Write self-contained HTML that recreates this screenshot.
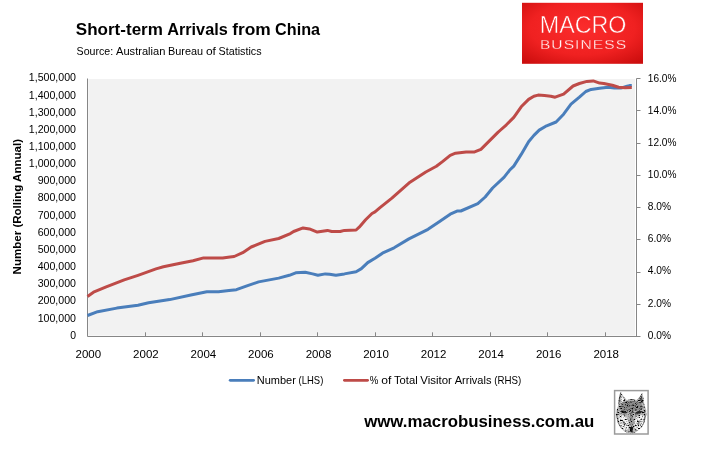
<!DOCTYPE html>
<html lang="en"><head><meta charset="utf-8"><title>Short-term Arrivals from China</title>
<style>
html,body{margin:0;padding:0;background:#fff;}
body{width:708px;height:454px;overflow:hidden;}
svg{display:block;}
text{font-family:"Liberation Sans",sans-serif;fill:#000;}
.b{font-weight:bold;}
.ax{font-size:10.6px;}
</style></head><body>
<svg width="708" height="454" viewBox="0 0 708 454">
<defs>
<radialGradient id="lg" cx="50%" cy="42%" r="72%">
<stop offset="0" stop-color="#fb2c2c"/><stop offset="0.6" stop-color="#f02121"/><stop offset="1" stop-color="#cc0e0e"/>
</radialGradient>
</defs>
<rect width="708" height="454" fill="#fff"/>

<text class="b" x="75.8" y="34.5" font-size="17.4" textLength="87.1" lengthAdjust="spacingAndGlyphs">Short-term</text>
<text class="b" x="167.2" y="34.5" font-size="17.4" textLength="60.6" lengthAdjust="spacingAndGlyphs">Arrivals</text>
<text class="b" x="232.2" y="34.5" font-size="17.4" textLength="38.6" lengthAdjust="spacingAndGlyphs">from</text>
<text class="b" x="275.1" y="34.5" font-size="17.4" textLength="44.9" lengthAdjust="spacingAndGlyphs">China</text>
<text x="76.6" y="54.7" font-size="11.2" textLength="36.6" lengthAdjust="spacingAndGlyphs">Source:</text>
<text x="116.0" y="54.7" font-size="11.2" textLength="49.4" lengthAdjust="spacingAndGlyphs">Australian</text>
<text x="168.0" y="54.7" font-size="11.2" textLength="35.1" lengthAdjust="spacingAndGlyphs">Bureau</text>
<text x="205.9" y="54.7" font-size="11.2" textLength="10.0" lengthAdjust="spacingAndGlyphs">of</text>
<text x="218.6" y="54.7" font-size="11.2" textLength="43.0" lengthAdjust="spacingAndGlyphs">Statistics</text>
<rect x="522" y="2.8" width="121" height="61" fill="url(#lg)"/>
<text x="539.8" y="32.8" font-size="23" textLength="86.6" lengthAdjust="spacingAndGlyphs" style="fill:#fff;stroke:#f42626;stroke-width:0.5">MACRO</text>
<text x="539.9" y="48.7" font-size="13.4" textLength="87.2" lengthAdjust="spacingAndGlyphs" style="fill:#fff;stroke:#f42626;stroke-width:0.3;letter-spacing:0.9px">BUSINESS</text>
<rect x="88.3" y="79" width="546.7" height="256.6" fill="#f2f2f2"/>
<g stroke="#868686" stroke-width="1" fill="none">
<path d="M87.5 78.5V336.5H640.5M636.5 78.5V336.5"/>
<path d="M145.5 336.5v-4.2M202.5 336.5v-4.2M260.5 336.5v-4.2M317.5 336.5v-4.2M375.5 336.5v-4.2M432.5 336.5v-4.2M490.5 336.5v-4.2M547.5 336.5v-4.2M605.5 336.5v-4.2M636.5 78.5h4M636.5 110.5h4M636.5 143.5h4M636.5 175.5h4M636.5 207.5h4M636.5 239.5h4M636.5 272.5h4M636.5 304.5h4"/></g>
<text class="ax" x="76" y="338.6" text-anchor="end" textLength="5.8" lengthAdjust="spacingAndGlyphs">0</text>
<text class="ax" x="76" y="321.5" text-anchor="end" textLength="38.3" lengthAdjust="spacingAndGlyphs">100,000</text>
<text class="ax" x="76" y="304.3" text-anchor="end" textLength="38.3" lengthAdjust="spacingAndGlyphs">200,000</text>
<text class="ax" x="76" y="287.2" text-anchor="end" textLength="38.3" lengthAdjust="spacingAndGlyphs">300,000</text>
<text class="ax" x="76" y="270.0" text-anchor="end" textLength="38.3" lengthAdjust="spacingAndGlyphs">400,000</text>
<text class="ax" x="76" y="252.9" text-anchor="end" textLength="38.3" lengthAdjust="spacingAndGlyphs">500,000</text>
<text class="ax" x="76" y="235.7" text-anchor="end" textLength="38.3" lengthAdjust="spacingAndGlyphs">600,000</text>
<text class="ax" x="76" y="218.6" text-anchor="end" textLength="38.3" lengthAdjust="spacingAndGlyphs">700,000</text>
<text class="ax" x="76" y="201.4" text-anchor="end" textLength="38.3" lengthAdjust="spacingAndGlyphs">800,000</text>
<text class="ax" x="76" y="184.3" text-anchor="end" textLength="38.3" lengthAdjust="spacingAndGlyphs">900,000</text>
<text class="ax" x="76" y="167.1" text-anchor="end" textLength="47.2" lengthAdjust="spacingAndGlyphs">1,000,000</text>
<text class="ax" x="76" y="150.0" text-anchor="end" textLength="47.2" lengthAdjust="spacingAndGlyphs">1,100,000</text>
<text class="ax" x="76" y="132.8" text-anchor="end" textLength="47.2" lengthAdjust="spacingAndGlyphs">1,200,000</text>
<text class="ax" x="76" y="115.7" text-anchor="end" textLength="47.2" lengthAdjust="spacingAndGlyphs">1,300,000</text>
<text class="ax" x="76" y="98.5" text-anchor="end" textLength="47.2" lengthAdjust="spacingAndGlyphs">1,400,000</text>
<text class="ax" x="76" y="81.4" text-anchor="end" textLength="47.2" lengthAdjust="spacingAndGlyphs">1,500,000</text>
<text class="ax" x="647.8" y="338.6" textLength="23.2" lengthAdjust="spacingAndGlyphs">0.0%</text>
<text class="ax" x="647.8" y="306.5" textLength="23.2" lengthAdjust="spacingAndGlyphs">2.0%</text>
<text class="ax" x="647.8" y="274.4" textLength="23.2" lengthAdjust="spacingAndGlyphs">4.0%</text>
<text class="ax" x="647.8" y="242.3" textLength="23.2" lengthAdjust="spacingAndGlyphs">6.0%</text>
<text class="ax" x="647.8" y="210.2" textLength="23.2" lengthAdjust="spacingAndGlyphs">8.0%</text>
<text class="ax" x="647.8" y="178.1" textLength="28.6" lengthAdjust="spacingAndGlyphs">10.0%</text>
<text class="ax" x="647.8" y="145.9" textLength="28.6" lengthAdjust="spacingAndGlyphs">12.0%</text>
<text class="ax" x="647.8" y="113.8" textLength="28.6" lengthAdjust="spacingAndGlyphs">14.0%</text>
<text class="ax" x="647.8" y="81.7" textLength="28.6" lengthAdjust="spacingAndGlyphs">16.0%</text>
<text class="ax" x="75.5" y="357.7" textLength="25.6" lengthAdjust="spacingAndGlyphs">2000</text>
<text class="ax" x="133.1" y="357.7" textLength="25.6" lengthAdjust="spacingAndGlyphs">2002</text>
<text class="ax" x="190.6" y="357.7" textLength="25.6" lengthAdjust="spacingAndGlyphs">2004</text>
<text class="ax" x="248.1" y="357.7" textLength="25.6" lengthAdjust="spacingAndGlyphs">2006</text>
<text class="ax" x="305.7" y="357.7" textLength="25.6" lengthAdjust="spacingAndGlyphs">2008</text>
<text class="ax" x="363.2" y="357.7" textLength="25.6" lengthAdjust="spacingAndGlyphs">2010</text>
<text class="ax" x="420.8" y="357.7" textLength="25.6" lengthAdjust="spacingAndGlyphs">2012</text>
<text class="ax" x="478.3" y="357.7" textLength="25.6" lengthAdjust="spacingAndGlyphs">2014</text>
<text class="ax" x="535.9" y="357.7" textLength="25.6" lengthAdjust="spacingAndGlyphs">2016</text>
<text class="ax" x="593.4" y="357.7" textLength="25.6" lengthAdjust="spacingAndGlyphs">2018</text>
<text class="b" font-size="11.7" transform="translate(20.6 274.4) rotate(-90)" textLength="135.4" lengthAdjust="spacingAndGlyphs">Number (Rolling Annual)</text>
<polyline points="87.5,315.5 97.7,311.7 116.8,308.1 138.0,305.3 148.6,302.8 169.7,299.6 190.9,295.0 206.8,291.8 218.5,291.8 229.0,290.5 236.4,289.7 246.9,285.9 258.6,281.9 278.7,278.1 289.3,275.3 295.7,272.8 305.2,272.2 312.6,273.9 317.9,275.3 325.3,273.9 329.6,274.3 335.9,275.3 344.4,273.9 356.1,271.7 361.4,268.6 367.7,262.6 375.0,258.2 383.5,252.6 394.1,247.8 408.9,238.9 428.0,229.3 440.7,220.8 450.2,214.2 457.6,210.9 460.8,211.0 477.8,203.7 485.2,197.0 492.6,188.0 504.2,177.2 509.5,170.3 513.8,166.1 521.2,154.4 528.6,141.7 533.9,135.4 539.2,130.1 546.6,125.8 556.1,122.0 563.6,114.2 571.0,104.2 579.4,97.2 585.8,91.5 591.1,89.4 599.6,88.3 608.1,87.3 614.4,88.1 620.8,88.1 627.1,86.2 629.5,85.6 631.8,85.6" fill="none" stroke="#4a7ebb" stroke-width="3" stroke-linejoin="round"/>
<polyline points="87.5,296.4 93.5,292.2 106.2,286.9 124.2,279.9 138.0,275.3 156.0,268.9 163.4,266.8 180.3,263.2 193.0,260.8 203.6,257.9 222.7,257.9 230.0,256.9 234.2,256.5 242.7,252.7 251.2,247.0 265.0,241.4 278.7,238.5 290.4,233.6 293.6,231.5 303.1,227.9 309.4,228.9 317.3,232.1 327.5,230.4 331.7,231.5 340.2,231.5 344.4,230.4 356.1,230.0 359.2,227.2 365.6,219.8 372.0,213.5 375.0,211.9 380.0,207.6 391.9,198.1 410.0,182.2 425.8,172.0 436.4,166.3 442.8,161.4 450.2,155.3 455.5,153.2 466.1,152.1 474.6,151.9 480.9,149.4 489.4,140.9 497.9,132.4 500.0,130.5 506.4,124.8 513.8,117.4 521.2,106.8 528.6,99.4 533.9,96.2 538.1,95.1 544.5,95.6 550.8,96.2 555.1,97.2 563.6,94.1 573.1,86.0 579.4,83.5 586.9,81.4 593.2,80.9 599.6,83.1 603.8,83.5 612.3,85.2 618.6,87.2 625.0,87.7 631.8,87.5" fill="none" stroke="#be4b48" stroke-width="3" stroke-linejoin="round"/>
<path d="M230.2 380.3H253.6" stroke="#4a7ebb" stroke-width="2.8" stroke-linecap="round"/>
<text x="256.8" y="383.8" font-size="10.8" textLength="39.1" lengthAdjust="spacingAndGlyphs">Number</text>
<text x="298.6" y="383.8" font-size="10.8" textLength="24.7" lengthAdjust="spacingAndGlyphs">(LHS)</text>
<path d="M344.4 380.3H367.6" stroke="#be4b48" stroke-width="2.8" stroke-linecap="round"/>
<text x="369.8" y="383.8" font-size="10.8" textLength="8.6" lengthAdjust="spacingAndGlyphs">%</text>
<text x="381.2" y="383.8" font-size="10.8" textLength="10.1" lengthAdjust="spacingAndGlyphs">of</text>
<text x="394.0" y="383.8" font-size="10.8" textLength="23.7" lengthAdjust="spacingAndGlyphs">Total</text>
<text x="420.3" y="383.8" font-size="10.8" textLength="31.6" lengthAdjust="spacingAndGlyphs">Visitor</text>
<text x="454.7" y="383.8" font-size="10.8" textLength="36.8" lengthAdjust="spacingAndGlyphs">Arrivals</text>
<text x="494.2" y="383.8" font-size="10.8" textLength="27.0" lengthAdjust="spacingAndGlyphs">(RHS)</text>
<text class="b" x="364.2" y="426.6" font-size="16.8" textLength="230.2" lengthAdjust="spacingAndGlyphs">www.macrobusiness.com.au</text>
<defs>
<filter id="fur" x="-5%" y="-5%" width="110%" height="110%">
<feTurbulence type="fractalNoise" baseFrequency="0.6 0.85" numOctaves="2" seed="11" result="t"/>
<feColorMatrix in="t" type="matrix" values="0 0 0 0 0  0 0 0 0 0  0 0 0 0 0  4.5 0 0 0 -2.15" result="n"/>
<feComposite in="n" in2="SourceGraphic" operator="in" result="spk"/>
<feMerge><feMergeNode in="SourceGraphic"/><feMergeNode in="spk"/></feMerge>
</filter>
<filter id="sft" x="-10%" y="-10%" width="120%" height="120%"><feGaussianBlur stdDeviation="0.4"/></filter>
</defs>
<g id="wolf">
<rect x="614.6" y="390.6" width="33.5" height="43.4" fill="#fff" stroke="#9a9a9a" stroke-width="1.5"/>
<g transform="translate(613.9 389.9)" filter="url(#sft)">
<g filter="url(#fur)">
<path d="M6.8 2.6 L9.8 6.8 L12.8 10 L17.5 9 L23 10 L25.8 6.5 L28.4 2.8 L29.6 8 L30.4 14.4 L32.3 20 L32.5 25 L30.4 30 L29.6 34 L26.5 38.5 L23 41.6 L19.5 43.3 L16.9 43.6 L13.5 42.8 L10 41 L6.5 37.5 L4.4 33.6 L3.4 29 L1.9 24.5 L2.8 19.5 L4.8 14.4 L5.6 8 Z" fill="#b9b9b9"/>
<path d="M7.2 5 L10.6 9.8 L7.4 13 Z" fill="#f4f4f4"/>
<path d="M6.8 2.6 L5.6 8 L4.8 14.4" fill="none" stroke="#505050" stroke-width="0.9"/>
<path d="M27.9 5.5 L29.3 13.5 L25.4 10.4 Z" fill="#505050"/>
<path d="M8.5 12.5 Q17.5 9 27 12.5 L29.5 18.5 Q24 21.5 20 21 L17.5 25 L14.5 21 Q10 21.5 5 18.5 Z" fill="#8d8d8d"/>
<path d="M4.2 25.5 Q8 24.5 12.5 27 L14.8 32 L14.3 39 L11 40.5 L6.3 35.5 Z" fill="#f4f4f4"/>
<path d="M30.6 25.5 Q27 24.5 22.5 27 L20.2 32 L20.7 39 L24 40.5 L28.7 35.5 Z" fill="#f4f4f4"/>
<path d="M16.2 22 L18.9 22 L19.4 36 L15.6 36 Z" fill="#9a9a9a"/>
<path d="M6 21.4 Q10 19.4 14 22.8 Q10 25 6 21.4Z" fill="#262626"/>
<path d="M29 21.6 Q25 19.6 21 23 Q25 25.2 29 21.6Z" fill="#262626"/>
<path d="M15.6 37 L19.4 37 L18.6 41.5 L17.5 42.6 L16.4 41.5 Z" fill="#1e1e1e"/>
<path d="M8.5 30 L12 33.5 L10.5 37 Z M26.5 30 L23 33.5 L24.5 37 Z" fill="#7e7e7e"/>
<path d="M2.4 24 L4.2 33 L7 37.5 M32.2 24 L30 33 L27 38" fill="none" stroke="#777" stroke-width="0.8"/>
</g>
</g>
</g>

</svg></body></html>
